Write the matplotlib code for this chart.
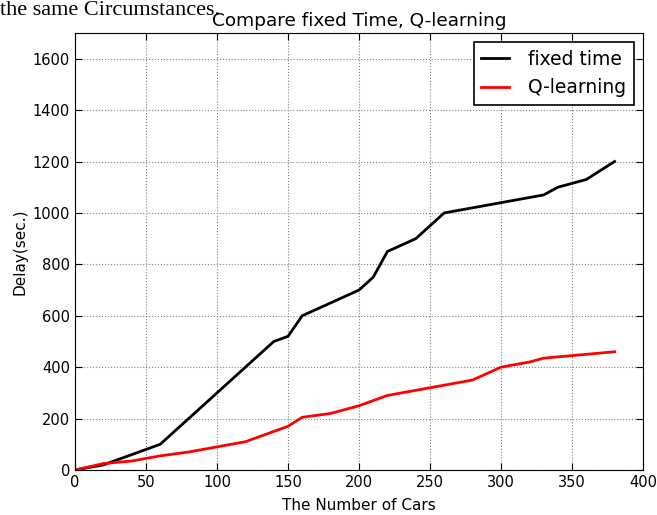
import matplotlib
matplotlib.use("Agg")
import matplotlib.pyplot as plt

# data
cars_fixed = [0, 20, 60, 120, 140, 150, 160, 200, 210, 220, 240, 260, 330, 340, 360, 380]
delay_fixed = [0, 20, 100, 400, 500, 520, 600, 700, 750, 850, 900, 1000, 1070, 1100, 1130, 1200]

cars_q = [0, 20, 40, 60, 80, 100, 120, 140, 150, 160, 180, 200, 220, 240, 260, 280, 300, 320, 330, 360, 380]
delay_q = [0, 25, 35, 55, 70, 90, 110, 150, 170, 205, 220, 250, 290, 310, 330, 350, 400, 420, 435, 450, 460]

fig = plt.figure(figsize=(6.57, 5.15), dpi=100)
ax = fig.add_axes([75 / 657, 45 / 515, 568 / 657, 437 / 515])

# cut-off line of the surrounding document
fig.text(0.0, 1 - 15 / 515, "the same Circumstances.", family="Liberation Serif",
         fontsize=16, va="baseline", ha="left")

ax.plot(cars_fixed, delay_fixed, color="black", lw=2, label="fixed time")
ax.plot(cars_q, delay_q, color="red", lw=2, label="Q-learning")

ax.set_xlim(0, 400)
ax.set_ylim(0, 1700)
ax.set_xticks(range(0, 401, 50))
ax.set_yticks(range(0, 1601, 200))
ax.tick_params(direction="in", labelsize=10.5, top=True, right=True, length=5)
ax.grid(True, linestyle=":", color="gray", lw=0.8)

ax.set_title("Compare fixed Time, Q-learning", fontsize=13.3, pad=5)
ax.set_xlabel("The Number of Cars", fontsize=11, labelpad=6)
ax.set_ylabel("Delay(sec.)", fontsize=11)

leg = ax.legend(loc="upper right", fontsize=13.5, fancybox=False, framealpha=1,
                edgecolor="black", handlelength=1.5, handletextpad=1.0,
                borderaxespad=0.5)
leg.get_frame().set_linewidth(1.2)

plt.savefig("out.png", dpi=100)
